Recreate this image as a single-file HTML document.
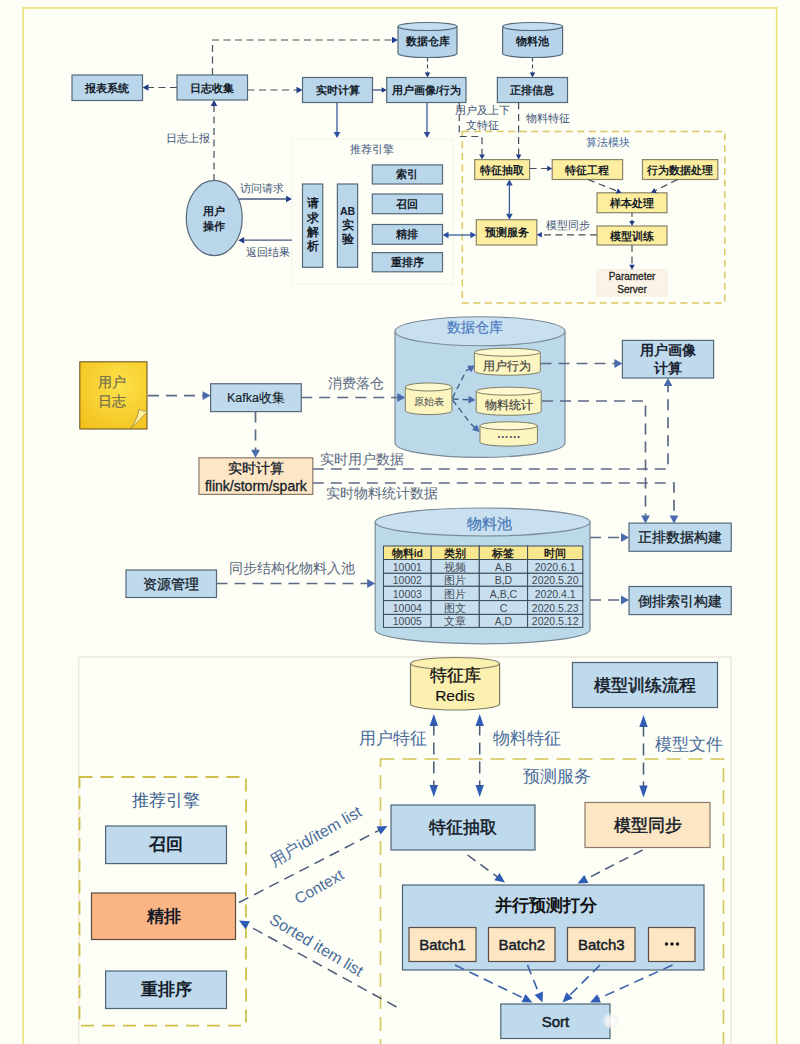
<!DOCTYPE html>
<html><head><meta charset="utf-8"><style>
html,body{margin:0;padding:0;background:#fdfef5;width:800px;height:1044px;overflow:hidden}
svg{display:block;font-family:"Liberation Sans", sans-serif}
</style></head><body>
<svg width="800" height="1044" viewBox="0 0 800 1044">
<rect width="800" height="1044" fill="#fdfef5"/>
<rect x="23.2" y="7.9" width="753.5" height="1060" fill="none" stroke="#ebe47e" stroke-width="1.7"/>
<polygon points="398,40 392.0,43.3 392.0,36.7" fill="#1e3a8a"/>
<polyline points="212.5,75 212.5,40 393.2,40.0" fill="none" stroke="#474e5c" stroke-width="1.2" stroke-dasharray="7,4.5"/>
<polygon points="142.5,87.5 148.5,84.2 148.5,90.8" fill="#1e3a8a"/>
<polyline points="177,87.5 147.3,87.5" fill="none" stroke="#474e5c" stroke-width="1.2" stroke-dasharray="7,4.5"/>
<polygon points="302.5,90 296.5,93.3 296.5,86.7" fill="#1e3a8a"/>
<polyline points="247.5,90 297.7,90.0" fill="none" stroke="#474e5c" stroke-width="1.2" stroke-dasharray="7,4.5"/>
<polygon points="386.7,90 381.7,92.75 381.7,87.25" fill="#1e3a8a"/>
<polyline points="372.5,90 382.7,90.0" fill="none" stroke="#3a5090" stroke-width="1.3" />
<polygon points="427.5,77.5 424.75,72.5 430.25,72.5" fill="#1e3a8a"/>
<polyline points="427.5,57.5 427.5,73.5" fill="none" stroke="#474e5c" stroke-width="1.2" stroke-dasharray="4,3"/>
<polygon points="532.5,77.5 529.75,72.5 535.25,72.5" fill="#1e3a8a"/>
<polyline points="532.5,57.5 532.5,73.5" fill="none" stroke="#474e5c" stroke-width="1.2" stroke-dasharray="4,3"/>
<polygon points="337,138 333.7,132.0 340.3,132.0" fill="#2a4a9a"/>
<polyline points="337,102.5 337.0,133.2" fill="none" stroke="#3a5aa0" stroke-width="1.3" />
<polygon points="427,138 423.7,132.0 430.3,132.0" fill="#2a4a9a"/>
<polyline points="427,102.5 427.0,133.2" fill="none" stroke="#3a5aa0" stroke-width="1.3" />
<polygon points="214,100 217.3,106.0 210.7,106.0" fill="#1e3a8a"/>
<polyline points="214,181 214.0,104.8" fill="none" stroke="#474e5c" stroke-width="1.2" stroke-dasharray="7,4.5"/>
<text x="188" y="138.4" font-size="11" font-weight="normal" fill="#3e5478"  text-anchor="middle" dominant-baseline="central" >日志上报</text>
<rect x="72" y="75" width="70.5" height="25.5" fill="#bad6ea" stroke="#55697a" stroke-width="1.2" />
<text x="107.25" y="87.75" font-size="11.3" font-weight="bold" fill="#141c2a"  text-anchor="middle" dominant-baseline="central" >报表系统</text>
<rect x="177" y="75" width="70.5" height="25" fill="#bad6ea" stroke="#55697a" stroke-width="1.2" />
<text x="212.25" y="87.5" font-size="11.3" font-weight="bold" fill="#141c2a"  text-anchor="middle" dominant-baseline="central" >日志收集</text>
<rect x="302.5" y="77.5" width="70.0" height="25.0" fill="#bad6ea" stroke="#55697a" stroke-width="1.2" />
<text x="337.5" y="90.0" font-size="11.3" font-weight="bold" fill="#141c2a"  text-anchor="middle" dominant-baseline="central" >实时计算</text>
<rect x="386.7" y="77.5" width="79.30000000000001" height="25.0" fill="#bad6ea" stroke="#55697a" stroke-width="1.2" />
<text x="426.35" y="90.0" font-size="11.3" font-weight="bold" fill="#141c2a"  text-anchor="middle" dominant-baseline="central" >用户画像/行为</text>
<rect x="497.4" y="77.5" width="70.10000000000002" height="25.0" fill="#bad6ea" stroke="#55697a" stroke-width="1.2" />
<text x="532.45" y="90.0" font-size="11.3" font-weight="bold" fill="#141c2a"  text-anchor="middle" dominant-baseline="central" >正排信息</text>
<path d="M398,26.5 L398,53.5 A29.5,4 0 0 0 457,53.5 L457,26.5" fill="#b6d3ea" stroke="#55697a" stroke-width="1.2"/>
<ellipse cx="427.5" cy="26.5" rx="29.5" ry="4" fill="#c6dff0" stroke="#55697a" stroke-width="1.2"/>
<text x="427.5" y="41" font-size="11" font-weight="bold" fill="#141c2a"  text-anchor="middle" dominant-baseline="central" >数据仓库</text>
<path d="M502.6,26.5 L502.6,53.5 A30.0,4 0 0 0 562.6,53.5 L562.6,26.5" fill="#b6d3ea" stroke="#55697a" stroke-width="1.2"/>
<ellipse cx="532.6" cy="26.5" rx="30.0" ry="4" fill="#c6dff0" stroke="#55697a" stroke-width="1.2"/>
<text x="532.6" y="41" font-size="11" font-weight="bold" fill="#141c2a"  text-anchor="middle" dominant-baseline="central" >物料池</text>
<rect x="292" y="139" width="161" height="145" fill="none" stroke="#f3f1ea" stroke-width="1" />
<text x="372" y="149" font-size="11" font-weight="normal" fill="#3e5478"  text-anchor="middle" dominant-baseline="central" >推荐引擎</text>
<ellipse cx="214.25" cy="218" rx="28" ry="37.6" fill="#bad6ea" stroke="#5a6a7a" stroke-width="1.2"/>
<text x="214.25" y="211" font-size="11" font-weight="bold" fill="#141c2a"  text-anchor="middle" dominant-baseline="central" >用户</text>
<text x="214.25" y="226" font-size="11" font-weight="bold" fill="#141c2a"  text-anchor="middle" dominant-baseline="central" >操作</text>
<polygon points="292,199 286.0,202.3 286.0,195.7" fill="#1e3a8a"/>
<polyline points="238,199 287.2,199.0" fill="none" stroke="#4a5a80" stroke-width="1.3" />
<polygon points="238.2,240.2 244.2,236.89999999999998 244.2,243.5" fill="#1e3a8a"/>
<polyline points="292,240.2 243.0,240.2" fill="none" stroke="#4a5a80" stroke-width="1.3" />
<text x="262.4" y="188.2" font-size="11" font-weight="normal" fill="#3e5478"  text-anchor="middle" dominant-baseline="central" >访问请求</text>
<text x="267.6" y="251.6" font-size="11" font-weight="normal" fill="#3e5478"  text-anchor="middle" dominant-baseline="central" >返回结果</text>
<rect x="302.5" y="184" width="20.25" height="83.30000000000001" fill="#bad6ea" stroke="#55697a" stroke-width="1.2" />
<text x="312.6" y="203" font-size="11.5" font-weight="bold" fill="#141c2a"  text-anchor="middle" dominant-baseline="central" >请</text>
<text x="312.6" y="217.8" font-size="11.5" font-weight="bold" fill="#141c2a"  text-anchor="middle" dominant-baseline="central" >求</text>
<text x="312.6" y="231.6" font-size="11.5" font-weight="bold" fill="#141c2a"  text-anchor="middle" dominant-baseline="central" >解</text>
<text x="312.6" y="245.9" font-size="11.5" font-weight="bold" fill="#141c2a"  text-anchor="middle" dominant-baseline="central" >析</text>
<rect x="337.4" y="184" width="20.200000000000045" height="83.30000000000001" fill="#bad6ea" stroke="#55697a" stroke-width="1.2" />
<text x="347.5" y="211" font-size="10.5" font-weight="bold" fill="#141c2a"  text-anchor="middle" dominant-baseline="central" >AB</text>
<text x="347.5" y="224.8" font-size="11.5" font-weight="bold" fill="#141c2a"  text-anchor="middle" dominant-baseline="central" >实</text>
<text x="347.5" y="239" font-size="11.5" font-weight="bold" fill="#141c2a"  text-anchor="middle" dominant-baseline="central" >验</text>
<rect x="372.3" y="164.9" width="70.19999999999999" height="19.099999999999994" fill="#bad6ea" stroke="#55697a" stroke-width="1.2" />
<text x="407.4" y="174.45" font-size="11.3" font-weight="bold" fill="#141c2a"  text-anchor="middle" dominant-baseline="central" >索引</text>
<rect x="372.3" y="194" width="70.19999999999999" height="19.69999999999999" fill="#bad6ea" stroke="#55697a" stroke-width="1.2" />
<text x="407.4" y="203.85" font-size="11.3" font-weight="bold" fill="#141c2a"  text-anchor="middle" dominant-baseline="central" >召回</text>
<rect x="372.3" y="224.5" width="70.19999999999999" height="19.80000000000001" fill="#bad6ea" stroke="#55697a" stroke-width="1.2" />
<text x="407.4" y="234.4" font-size="11.3" font-weight="bold" fill="#141c2a"  text-anchor="middle" dominant-baseline="central" >精排</text>
<rect x="372.3" y="252.6" width="70.19999999999999" height="19.200000000000017" fill="#bad6ea" stroke="#55697a" stroke-width="1.2" />
<text x="407.4" y="262.2" font-size="11.3" font-weight="bold" fill="#141c2a"  text-anchor="middle" dominant-baseline="central" >重排序</text>
<rect x="462.3" y="131.5" width="262.49999999999994" height="171.5" fill="none" stroke="#dcc860" stroke-width="1.5" stroke-dasharray="7,4.5"/>
<text x="607.5" y="142" font-size="11" font-weight="normal" fill="#44689a"  text-anchor="middle" dominant-baseline="central" >算法模块</text>
<polygon points="482,159.6 479.25,154.6 484.75,154.6" fill="#1e3a8a"/>
<polyline points="459.25,102.5 459.25,136.5 482,136.5 482.0,155.6" fill="none" stroke="#474e5c" stroke-width="1.2" stroke-dasharray="7,4.5"/>
<text x="482.7" y="110.4" font-size="11" font-weight="normal" fill="#3e5478"  text-anchor="middle" dominant-baseline="central" >用户及上下</text>
<text x="482.5" y="124.75" font-size="11" font-weight="normal" fill="#3e5478"  text-anchor="middle" dominant-baseline="central" >文特征</text>
<polygon points="518.6,159.6 515.85,154.6 521.35,154.6" fill="#1e3a8a"/>
<polyline points="518.6,102.5 518.6,155.6" fill="none" stroke="#474e5c" stroke-width="1.2" stroke-dasharray="7,4.5"/>
<text x="547.6" y="118.1" font-size="11" font-weight="normal" fill="#3e5478"  text-anchor="middle" dominant-baseline="central" >物料特征</text>
<rect x="474.7" y="159.6" width="54.900000000000034" height="19.900000000000006" fill="#fcee9e" stroke="#8a8468" stroke-width="1.2" />
<text x="502.15" y="169.55" font-size="11" font-weight="bold" fill="#141c2a"  text-anchor="middle" dominant-baseline="central" >特征抽取</text>
<rect x="552.2" y="159.6" width="70.39999999999998" height="19.900000000000006" fill="#fcee9e" stroke="#8a8468" stroke-width="1.2" />
<text x="587.4000000000001" y="169.55" font-size="11" font-weight="bold" fill="#141c2a"  text-anchor="middle" dominant-baseline="central" >特征工程</text>
<rect x="642.5" y="159.6" width="75.29999999999995" height="19.900000000000006" fill="#fcee9e" stroke="#8a8468" stroke-width="1.2" />
<text x="680.15" y="169.55" font-size="11" font-weight="bold" fill="#141c2a"  text-anchor="middle" dominant-baseline="central" >行为数据处理</text>
<rect x="597" y="192.8" width="70" height="19.899999999999977" fill="#fcee9e" stroke="#8a8468" stroke-width="1.2" />
<text x="632.0" y="202.75" font-size="11" font-weight="bold" fill="#141c2a"  text-anchor="middle" dominant-baseline="central" >样本处理</text>
<rect x="597" y="226" width="70" height="19" fill="#fcee9e" stroke="#8a8468" stroke-width="1.2" />
<text x="632.0" y="235.5" font-size="11" font-weight="bold" fill="#141c2a"  text-anchor="middle" dominant-baseline="central" >模型训练</text>
<rect x="476.3" y="219.7" width="60.49999999999994" height="25.30000000000001" fill="#fcee9e" stroke="#8a8468" stroke-width="1.2" />
<text x="506.54999999999995" y="232.35" font-size="11" font-weight="bold" fill="#141c2a"  text-anchor="middle" dominant-baseline="central" >预测服务</text>
<rect x="597" y="269.8" width="70" height="26.19999999999999" fill="#faf4e8" stroke="#efe6d4" stroke-width="0.8" />
<text x="632" y="276.5" font-size="10" font-weight="normal" fill="#222" stroke="#222" stroke-width="0.3" stroke-linejoin="round" text-anchor="middle" dominant-baseline="central" >Parameter</text>
<text x="632" y="289.5" font-size="10" font-weight="normal" fill="#222" stroke="#222" stroke-width="0.3" stroke-linejoin="round" text-anchor="middle" dominant-baseline="central" >Server</text>
<polygon points="552.2,168.5 547.2,171.25 547.2,165.75" fill="#1e3a8a"/>
<polyline points="529.6,168.5 548.2,168.5" fill="none" stroke="#474e5c" stroke-width="1.2" stroke-dasharray="7,4.5"/>
<polygon points="621.5,192.8 615.8381047822094,193.51094482399063 617.8675921529376,188.39907813832147" fill="#1e3a8a"/>
<polyline points="588,179.5 617.7822787740588,191.32400918492485" fill="none" stroke="#474e5c" stroke-width="1.2" stroke-dasharray="7,4.5"/>
<polygon points="651,192.8 654.2352123191399,188.0993722493602 656.7023041215384,193.01500629173333" fill="#1e3a8a"/>
<polyline points="677.5,179.5 654.5750065762713,191.0057514164374" fill="none" stroke="#474e5c" stroke-width="1.2" stroke-dasharray="7,4.5"/>
<polygon points="632,226 629.25,221.0 634.75,221.0" fill="#1e3a8a"/>
<polyline points="632,212.7 632.0,222.0" fill="none" stroke="#474e5c" stroke-width="1.2" stroke-dasharray="4,3"/>
<polygon points="632,269.8 629.25,264.8 634.75,264.8" fill="#1e3a8a"/>
<polyline points="632,245 632.0,265.8" fill="none" stroke="#474e5c" stroke-width="1.2" stroke-dasharray="7,4.5"/>
<polygon points="536.8,234.8 541.8,232.05 541.8,237.55" fill="#1e3a8a"/>
<polyline points="597,234.8 540.8,234.8" fill="none" stroke="#474e5c" stroke-width="1.2" stroke-dasharray="7,4.5"/>
<text x="568" y="225" font-size="11" font-weight="normal" fill="#3e5478"  text-anchor="middle" dominant-baseline="central" >模型同步</text>
<polygon points="509.4,219.7 506.09999999999997,213.7 512.6999999999999,213.7" fill="#2a4a9a"/>
<polygon points="509.4,179.5 512.6999999999999,185.5 506.09999999999997,185.5" fill="#2a4a9a"/>
<polyline points="509.4,184.3 509.4,214.89999999999998" fill="none" stroke="#3a5aa0" stroke-width="1.3" />
<polygon points="476.3,235 470.3,238.3 470.3,231.7" fill="#2a4a9a"/>
<polygon points="442.5,235 448.5,231.7 448.5,238.3" fill="#2a4a9a"/>
<polyline points="447.3,235.0 471.5,235.0" fill="none" stroke="#3a5aa0" stroke-width="1.3" />
<defs><radialGradient id="ng" cx="0.6" cy="0.35" r="0.8"><stop offset="0" stop-color="#fde24a"/><stop offset="1" stop-color="#f3c11e"/></radialGradient></defs>
<rect x="79.8" y="361.8" width="67.2" height="67.2" fill="url(#ng)" stroke="#6e5a20" stroke-width="1.1"/>
<path d="M130.5,428.8 Q138,418 139,409 Q144,412 147,411 L147,412 Q140,420 130.5,428.8 Z" fill="#fdf0a0" stroke="#8a7a3a" stroke-width="0.7"/>
<text x="112" y="382" font-size="14" font-weight="normal" fill="#76704e" stroke="#76704e" stroke-width="0.25" stroke-linejoin="round" text-anchor="middle" dominant-baseline="central" >用户</text>
<text x="112" y="401" font-size="14" font-weight="normal" fill="#76704e" stroke="#76704e" stroke-width="0.25" stroke-linejoin="round" text-anchor="middle" dominant-baseline="central" >日志</text>
<rect x="210.6" y="383.75" width="90.65" height="27.850000000000023" fill="#bedaec" stroke="#56687a" stroke-width="1.2" />
<text x="255.925" y="397.675" font-size="12.5" font-weight="normal" fill="#141c2a" stroke="#141c2a" stroke-width="0.15" stroke-linejoin="round" text-anchor="middle" dominant-baseline="central" >Kafka收集</text>
<rect x="199" y="457.8" width="113.80000000000001" height="36.599999999999966" fill="#fde6c6" stroke="#8a7a6a" stroke-width="1.2" />
<text x="255.9" y="467.6" font-size="14" font-weight="normal" fill="#141c2a" stroke="#141c2a" stroke-width="0.3" stroke-linejoin="round" text-anchor="middle" dominant-baseline="central" >实时计算</text>
<text x="255.9" y="485.6" font-size="14" font-weight="normal" fill="#141c2a" stroke="#141c2a" stroke-width="0.3" stroke-linejoin="round" text-anchor="middle" dominant-baseline="central" >flink/storm/spark</text>
<path d="M395,331.25 L395,442.9 A85.0,14.5 0 0 0 565,442.9 L565,331.25" fill="#bcd9ea" stroke="#7a8a96" stroke-width="1.2"/>
<ellipse cx="480.0" cy="331.25" rx="85.0" ry="14.5" fill="#c8e0ef" stroke="#7a8a96" stroke-width="1.2"/>
<text x="475" y="327" font-size="14" font-weight="normal" fill="#4a78c0" stroke="#4a78c0" stroke-width="0.15" stroke-linejoin="round" text-anchor="middle" dominant-baseline="central" >数据仓库</text>
<path d="M405.3,387 L405.3,410.6 A23.299999999999983,4 0 0 0 451.9,410.6 L451.9,387" fill="#fcf5c0" stroke="#7e7e66" stroke-width="1"/>
<ellipse cx="428.6" cy="387" rx="23.299999999999983" ry="4" fill="#fdf8d0" stroke="#7e7e66" stroke-width="1"/>
<text x="428.6" y="401" font-size="10" font-weight="normal" fill="#555" stroke="#555" stroke-width="0.1" stroke-linejoin="round" text-anchor="middle" dominant-baseline="central" >原始表</text>
<path d="M474.4,352.25 L474.4,371.25 A32.94999999999999,4 0 0 0 540.3,371.25 L540.3,352.25" fill="#fcf5c0" stroke="#7e7e66" stroke-width="1"/>
<ellipse cx="507.34999999999997" cy="352.25" rx="32.94999999999999" ry="4" fill="#fdf8d0" stroke="#7e7e66" stroke-width="1"/>
<text x="507.3" y="366" font-size="12" font-weight="normal" fill="#444" stroke="#444" stroke-width="0.2" stroke-linejoin="round" text-anchor="middle" dominant-baseline="central" >用户行为</text>
<path d="M476.2,391.2 L476.2,411.3 A32.50000000000003,4 0 0 0 541.2,411.3 L541.2,391.2" fill="#fcf5c0" stroke="#7e7e66" stroke-width="1"/>
<ellipse cx="508.70000000000005" cy="391.2" rx="32.50000000000003" ry="4" fill="#fdf8d0" stroke="#7e7e66" stroke-width="1"/>
<text x="508.7" y="404.5" font-size="12" font-weight="normal" fill="#444" stroke="#444" stroke-width="0.2" stroke-linejoin="round" text-anchor="middle" dominant-baseline="central" >物料统计</text>
<path d="M480,425.8 L480,442.1 A28.69999999999999,4 0 0 0 537.4,442.1 L537.4,425.8" fill="#fcf5c0" stroke="#7e7e66" stroke-width="1"/>
<ellipse cx="508.7" cy="425.8" rx="28.69999999999999" ry="4" fill="#fdf8d0" stroke="#7e7e66" stroke-width="1"/>
<text x="508.7" y="433.5" font-size="12" font-weight="bold" fill="#555"  text-anchor="middle" dominant-baseline="central" >……</text>
<polygon points="210.6,395.6 202.6,400.0 202.6,391.20000000000005" fill="#4a6ab0"/>
<polyline points="148,395.6 204.2,395.6" fill="none" stroke="#5d6a86" stroke-width="1.7" stroke-dasharray="11,7"/>
<polygon points="405.3,397.5 397.3,401.9 397.3,393.1" fill="#4a6ab0"/>
<polyline points="301.25,397.5 398.90000000000003,397.5" fill="none" stroke="#5d6a86" stroke-width="1.7" stroke-dasharray="11,7"/>
<text x="356" y="383" font-size="13.5" font-weight="normal" fill="#5a6882"  text-anchor="middle" dominant-baseline="central" >消费落仓</text>
<polygon points="255.5,457.8 251.1,449.8 259.9,449.8" fill="#4a6ab0"/>
<polyline points="255.5,411.6 255.5,451.40000000000003" fill="none" stroke="#5d6a86" stroke-width="1.7" stroke-dasharray="11,7"/>
<polygon points="475,365.5 471.0346097008341,372.4352851257379 467.01944462803846,365.8650150066178" fill="#4a6ab0"/>
<polyline points="452.5,398 466,371 470.221621731549,368.42012005294225" fill="none" stroke="#40648a" stroke-width="1.4" stroke-dasharray="6,4"/>
<polygon points="475.5,400 468.3393735780508,403.54230563973283 468.6738402049784,395.84957322039884" fill="#4a6ab0"/>
<polyline points="452.5,399 469.90528551321165,399.7567515440527" fill="none" stroke="#40648a" stroke-width="1.4" stroke-dasharray="6,4"/>
<polygon points="479.6,432 471.85244265432084,430.05119134458687 477.096943011396,424.4133534607312" fill="#4a6ab0"/>
<polyline points="452.5,400 471,424 475.49975426628674,428.18581792212717" fill="none" stroke="#40648a" stroke-width="1.4" stroke-dasharray="6,4"/>
<rect x="622.4" y="340.4" width="91.20000000000005" height="37.60000000000002" fill="#bedaec" stroke="#56687a" stroke-width="1.2" />
<text x="668.0" y="350.2" font-size="14" font-weight="bold" fill="#1a2230"  text-anchor="middle" dominant-baseline="central" >用户画像</text>
<text x="668.0" y="368.2" font-size="14" font-weight="bold" fill="#1a2230"  text-anchor="middle" dominant-baseline="central" >计算</text>
<polygon points="622.4,363.5 614.4,367.9 614.4,359.1" fill="#4a6ab0"/>
<polyline points="540.5,363.5 616.0,363.5" fill="none" stroke="#5d6a86" stroke-width="1.7" stroke-dasharray="11,7"/>
<polygon points="645.5,523.5 641.1,515.5 649.9,515.5" fill="#4a6ab0"/>
<polyline points="542,401 645.5,401 645.5,517.1" fill="none" stroke="#5d6a86" stroke-width="1.7" stroke-dasharray="11,7"/>
<polygon points="668,378 672.4,386.0 663.6,386.0" fill="#4a6ab0"/>
<polyline points="312.8,469 668,469 668.0,384.4" fill="none" stroke="#5d6a86" stroke-width="1.7" stroke-dasharray="11,7"/>
<polygon points="674,523.5 669.6,515.5 678.4,515.5" fill="#4a6ab0"/>
<polyline points="312.8,483 674,483 674.0,517.1" fill="none" stroke="#5d6a86" stroke-width="1.7" stroke-dasharray="11,7"/>
<text x="362" y="459" font-size="13.5" font-weight="normal" fill="#5a6882"  text-anchor="middle" dominant-baseline="central" >实时用户数据</text>
<text x="382" y="493" font-size="13.5" font-weight="normal" fill="#5a6882"  text-anchor="middle" dominant-baseline="central" >实时物料统计数据</text>
<rect x="629" y="523.1" width="102.25" height="28.149999999999977" fill="#bedaec" stroke="#56687a" stroke-width="1.2" />
<text x="680.125" y="537.175" font-size="14" font-weight="normal" fill="#141c2a" stroke="#141c2a" stroke-width="0.3" stroke-linejoin="round" text-anchor="middle" dominant-baseline="central" >正排数据构建</text>
<rect x="629" y="586.5" width="102.25" height="28.100000000000023" fill="#bedaec" stroke="#56687a" stroke-width="1.2" />
<text x="680.125" y="600.55" font-size="14" font-weight="normal" fill="#141c2a" stroke="#141c2a" stroke-width="0.3" stroke-linejoin="round" text-anchor="middle" dominant-baseline="central" >倒排索引构建</text>
<path d="M375.2,522 L375.2,629.8 A107.4,14 0 0 0 590,629.8 L590,522" fill="#bcd9ea" stroke="#7a8a96" stroke-width="1.2"/>
<ellipse cx="482.6" cy="522" rx="107.4" ry="14" fill="#c8e0ef" stroke="#7a8a96" stroke-width="1.2"/>
<text x="489" y="523" font-size="15" font-weight="normal" fill="#4a78b8" stroke="#4a78b8" stroke-width="0.25" stroke-linejoin="round" text-anchor="middle" dominant-baseline="central" >物料池</text>
<polygon points="629,537.5 621.0,541.9 621.0,533.1" fill="#4a6ab0"/>
<polyline points="590,537.5 622.6,537.5" fill="none" stroke="#5d6a86" stroke-width="1.7" stroke-dasharray="11,7"/>
<polygon points="629,600 621.0,604.4 621.0,595.6" fill="#4a6ab0"/>
<polyline points="590,600 622.6,600.0" fill="none" stroke="#5d6a86" stroke-width="1.7" stroke-dasharray="11,7"/>
<rect x="126" y="570" width="90.5" height="27.5" fill="#bedaec" stroke="#56687a" stroke-width="1.2" />
<text x="171.25" y="583.75" font-size="14" font-weight="normal" fill="#141c2a" stroke="#141c2a" stroke-width="0.3" stroke-linejoin="round" text-anchor="middle" dominant-baseline="central" >资源管理</text>
<polygon points="375.2,583.5 367.2,587.9 367.2,579.1" fill="#4a6ab0"/>
<polyline points="216.5,583.5 368.8,583.5" fill="none" stroke="#5d6a86" stroke-width="1.7" stroke-dasharray="11,7"/>
<text x="292" y="568.5" font-size="13.5" font-weight="normal" fill="#5a6882"  text-anchor="middle" dominant-baseline="central" >同步结构化物料入池</text>
<rect x="383.5" y="546" width="47.69999999999999" height="13.5" fill="#f7e78e" stroke="#3a4a58" stroke-width="1" />
<text x="407.35" y="553.25" font-size="10.5" font-weight="bold" fill="#222"  text-anchor="middle" dominant-baseline="central" >物料id</text>
<rect x="431.2" y="546" width="48.10000000000002" height="13.5" fill="#f7e78e" stroke="#3a4a58" stroke-width="1" />
<text x="455.25" y="553.25" font-size="10.5" font-weight="bold" fill="#222"  text-anchor="middle" dominant-baseline="central" >类别</text>
<rect x="479.3" y="546" width="48.30000000000001" height="13.5" fill="#f7e78e" stroke="#3a4a58" stroke-width="1" />
<text x="503.45000000000005" y="553.25" font-size="10.5" font-weight="bold" fill="#222"  text-anchor="middle" dominant-baseline="central" >标签</text>
<rect x="527.6" y="546" width="55.19999999999993" height="13.5" fill="#f7e78e" stroke="#3a4a58" stroke-width="1" />
<text x="555.2" y="553.25" font-size="10.5" font-weight="bold" fill="#222"  text-anchor="middle" dominant-baseline="central" >时间</text>
<rect x="383.5" y="559.5" width="47.69999999999999" height="13.799999999999955" fill="#c8dfef" stroke="#3a4a58" stroke-width="1" />
<text x="407.35" y="566.9" font-size="10.5" font-weight="normal" fill="#444a55"  text-anchor="middle" dominant-baseline="central" >10001</text>
<rect x="431.2" y="559.5" width="48.10000000000002" height="13.799999999999955" fill="#c8dfef" stroke="#3a4a58" stroke-width="1" />
<text x="455.25" y="566.9" font-size="10.5" font-weight="normal" fill="#444a55"  text-anchor="middle" dominant-baseline="central" >视频</text>
<rect x="479.3" y="559.5" width="48.30000000000001" height="13.799999999999955" fill="#c8dfef" stroke="#3a4a58" stroke-width="1" />
<text x="503.45000000000005" y="566.9" font-size="10.5" font-weight="normal" fill="#444a55"  text-anchor="middle" dominant-baseline="central" >A,B</text>
<rect x="527.6" y="559.5" width="55.19999999999993" height="13.799999999999955" fill="#c8dfef" stroke="#3a4a58" stroke-width="1" />
<text x="555.2" y="566.9" font-size="10.5" font-weight="normal" fill="#444a55"  text-anchor="middle" dominant-baseline="central" >2020.6.1</text>
<rect x="383.5" y="573.3" width="47.69999999999999" height="13.0" fill="#c8dfef" stroke="#3a4a58" stroke-width="1" />
<text x="407.35" y="580.3" font-size="10.5" font-weight="normal" fill="#444a55"  text-anchor="middle" dominant-baseline="central" >10002</text>
<rect x="431.2" y="573.3" width="48.10000000000002" height="13.0" fill="#c8dfef" stroke="#3a4a58" stroke-width="1" />
<text x="455.25" y="580.3" font-size="10.5" font-weight="normal" fill="#444a55"  text-anchor="middle" dominant-baseline="central" >图片</text>
<rect x="479.3" y="573.3" width="48.30000000000001" height="13.0" fill="#c8dfef" stroke="#3a4a58" stroke-width="1" />
<text x="503.45000000000005" y="580.3" font-size="10.5" font-weight="normal" fill="#444a55"  text-anchor="middle" dominant-baseline="central" >B,D</text>
<rect x="527.6" y="573.3" width="55.19999999999993" height="13.0" fill="#c8dfef" stroke="#3a4a58" stroke-width="1" />
<text x="555.2" y="580.3" font-size="10.5" font-weight="normal" fill="#444a55"  text-anchor="middle" dominant-baseline="central" >2020.5.20</text>
<rect x="383.5" y="586.3" width="47.69999999999999" height="14.300000000000068" fill="#c8dfef" stroke="#3a4a58" stroke-width="1" />
<text x="407.35" y="593.95" font-size="10.5" font-weight="normal" fill="#444a55"  text-anchor="middle" dominant-baseline="central" >10003</text>
<rect x="431.2" y="586.3" width="48.10000000000002" height="14.300000000000068" fill="#c8dfef" stroke="#3a4a58" stroke-width="1" />
<text x="455.25" y="593.95" font-size="10.5" font-weight="normal" fill="#444a55"  text-anchor="middle" dominant-baseline="central" >图片</text>
<rect x="479.3" y="586.3" width="48.30000000000001" height="14.300000000000068" fill="#c8dfef" stroke="#3a4a58" stroke-width="1" />
<text x="503.45000000000005" y="593.95" font-size="10.5" font-weight="normal" fill="#444a55"  text-anchor="middle" dominant-baseline="central" >A,B,C</text>
<rect x="527.6" y="586.3" width="55.19999999999993" height="14.300000000000068" fill="#c8dfef" stroke="#3a4a58" stroke-width="1" />
<text x="555.2" y="593.95" font-size="10.5" font-weight="normal" fill="#444a55"  text-anchor="middle" dominant-baseline="central" >2020.4.1</text>
<rect x="383.5" y="600.6" width="47.69999999999999" height="13.799999999999955" fill="#c8dfef" stroke="#3a4a58" stroke-width="1" />
<text x="407.35" y="608.0" font-size="10.5" font-weight="normal" fill="#444a55"  text-anchor="middle" dominant-baseline="central" >10004</text>
<rect x="431.2" y="600.6" width="48.10000000000002" height="13.799999999999955" fill="#c8dfef" stroke="#3a4a58" stroke-width="1" />
<text x="455.25" y="608.0" font-size="10.5" font-weight="normal" fill="#444a55"  text-anchor="middle" dominant-baseline="central" >图文</text>
<rect x="479.3" y="600.6" width="48.30000000000001" height="13.799999999999955" fill="#c8dfef" stroke="#3a4a58" stroke-width="1" />
<text x="503.45000000000005" y="608.0" font-size="10.5" font-weight="normal" fill="#444a55"  text-anchor="middle" dominant-baseline="central" >C</text>
<rect x="527.6" y="600.6" width="55.19999999999993" height="13.799999999999955" fill="#c8dfef" stroke="#3a4a58" stroke-width="1" />
<text x="555.2" y="608.0" font-size="10.5" font-weight="normal" fill="#444a55"  text-anchor="middle" dominant-baseline="central" >2020.5.23</text>
<rect x="383.5" y="614.4" width="47.69999999999999" height="13.0" fill="#c8dfef" stroke="#3a4a58" stroke-width="1" />
<text x="407.35" y="621.4" font-size="10.5" font-weight="normal" fill="#444a55"  text-anchor="middle" dominant-baseline="central" >10005</text>
<rect x="431.2" y="614.4" width="48.10000000000002" height="13.0" fill="#c8dfef" stroke="#3a4a58" stroke-width="1" />
<text x="455.25" y="621.4" font-size="10.5" font-weight="normal" fill="#444a55"  text-anchor="middle" dominant-baseline="central" >文章</text>
<rect x="479.3" y="614.4" width="48.30000000000001" height="13.0" fill="#c8dfef" stroke="#3a4a58" stroke-width="1" />
<text x="503.45000000000005" y="621.4" font-size="10.5" font-weight="normal" fill="#444a55"  text-anchor="middle" dominant-baseline="central" >A,D</text>
<rect x="527.6" y="614.4" width="55.19999999999993" height="13.0" fill="#c8dfef" stroke="#3a4a58" stroke-width="1" />
<text x="555.2" y="621.4" font-size="10.5" font-weight="normal" fill="#444a55"  text-anchor="middle" dominant-baseline="central" >2020.5.12</text>
<rect x="78.75" y="657" width="652.25" height="423" fill="none" stroke="#ebe2d6" stroke-width="1.2" />
<path d="M410.5,663.5 L410.5,704 A44.55000000000001,6 0 0 0 499.6,704 L499.6,663.5" fill="#fcf0b0" stroke="#7a7a60" stroke-width="1.2"/>
<ellipse cx="455.05" cy="663.5" rx="44.55000000000001" ry="6" fill="#fcf0b0" stroke="#7a7a60" stroke-width="1.2"/>
<text x="455" y="675" font-size="17" font-weight="normal" fill="#111" stroke="#111" stroke-width="0.3" stroke-linejoin="round" text-anchor="middle" dominant-baseline="central" >特征库</text>
<text x="455" y="695.5" font-size="15.5" font-weight="normal" fill="#111" stroke="#111" stroke-width="0.15" stroke-linejoin="round" text-anchor="middle" dominant-baseline="central" >Redis</text>
<rect x="572.5" y="662.5" width="145.0" height="45.0" fill="#bfdaec" stroke="#4e6476" stroke-width="1.2" />
<text x="645.0" y="685.0" font-size="17" font-weight="normal" fill="#141c2a" stroke="#141c2a" stroke-width="0.5" stroke-linejoin="round" text-anchor="middle" dominant-baseline="central" >模型训练流程</text>
<polygon points="433.8,797 429.6,785.0 438.0,785.0" fill="#2f5cb8"/>
<polygon points="433.8,714 438.0,726.0 429.6,726.0" fill="#2f5cb8"/>
<polyline points="433.8,723.6 433.8,787.4" fill="none" stroke="#4a5a78" stroke-width="1.5" stroke-dasharray="12,7"/>
<polygon points="479.7,797 475.5,785.0 483.9,785.0" fill="#2f5cb8"/>
<polygon points="479.7,714 483.9,726.0 475.5,726.0" fill="#2f5cb8"/>
<polyline points="479.7,723.6 479.7,787.4" fill="none" stroke="#4a5a78" stroke-width="1.5" stroke-dasharray="12,7"/>
<polygon points="643.5,797.5 639.3,785.5 647.7,785.5" fill="#2f5cb8"/>
<polygon points="643.5,715 647.7,727.0 639.3,727.0" fill="#2f5cb8"/>
<polyline points="643.5,724.6 643.5,787.9" fill="none" stroke="#4a5a78" stroke-width="1.5" stroke-dasharray="12,7"/>
<text x="393" y="738.5" font-size="17" font-weight="normal" fill="#4a6c9c"  text-anchor="middle" dominant-baseline="central" >用户特征</text>
<text x="527" y="738.5" font-size="17" font-weight="normal" fill="#4a6c9c"  text-anchor="middle" dominant-baseline="central" >物料特征</text>
<text x="689" y="744" font-size="17" font-weight="normal" fill="#4a6c9c"  text-anchor="middle" dominant-baseline="central" >模型文件</text>
<rect x="380.5" y="759" width="343.0" height="321" fill="none" stroke="#d4c55a" stroke-width="1.6" stroke-dasharray="14,8"/>
<text x="557" y="776" font-size="16.5" font-weight="normal" fill="#4a6c9c"  text-anchor="middle" dominant-baseline="central" >预测服务</text>
<rect x="79.5" y="777" width="166.5" height="248.5999999999999" fill="none" stroke="#cfbf4a" stroke-width="1.8" stroke-dasharray="13,8"/>
<text x="166" y="800.5" font-size="17" font-weight="normal" fill="#3a6090"  text-anchor="middle" dominant-baseline="central" >推荐引擎</text>
<rect x="105.6" y="826" width="120.9" height="37.60000000000002" fill="#bfdaec" stroke="#4e6476" stroke-width="1.2" />
<text x="166.05" y="844.8" font-size="17" font-weight="bold" fill="#141c2a"  text-anchor="middle" dominant-baseline="central" >召回</text>
<rect x="91.5" y="893" width="144.0" height="46.5" fill="#fbb584" stroke="#5a4a40" stroke-width="1.2" />
<text x="163.5" y="916.25" font-size="17" font-weight="bold" fill="#141c2a"  text-anchor="middle" dominant-baseline="central" >精排</text>
<rect x="105.6" y="971" width="120.9" height="37.5" fill="#bfdaec" stroke="#4e6476" stroke-width="1.2" />
<text x="166.05" y="989.75" font-size="17" font-weight="bold" fill="#141c2a"  text-anchor="middle" dominant-baseline="central" >重排序</text>
<rect x="391" y="805" width="144" height="45" fill="#bfdaec" stroke="#4e6476" stroke-width="1.2" />
<text x="463.0" y="827.5" font-size="17" font-weight="normal" fill="#141c2a" stroke="#141c2a" stroke-width="0.5" stroke-linejoin="round" text-anchor="middle" dominant-baseline="central" >特征抽取</text>
<rect x="585" y="802.5" width="125" height="45.0" fill="#fde6c4" stroke="#8a7a6a" stroke-width="1.2" />
<text x="647.5" y="825.0" font-size="17" font-weight="normal" fill="#141c2a" stroke="#141c2a" stroke-width="0.5" stroke-linejoin="round" text-anchor="middle" dominant-baseline="central" >模型同步</text>
<rect x="402.5" y="885" width="301.5" height="85" fill="#bfdaec" stroke="#4e6476" stroke-width="1.2" />
<text x="545.5" y="905" font-size="16.5" font-weight="bold" fill="#111"  text-anchor="middle" dominant-baseline="central" >并行预测打分</text>
<rect x="409" y="927.5" width="67" height="34.0" fill="#fde6c4" stroke="#5a4e46" stroke-width="1.2" />
<text x="442.5" y="944.5" font-size="15" font-weight="normal" fill="#141c2a" stroke="#141c2a" stroke-width="0.45" stroke-linejoin="round" text-anchor="middle" dominant-baseline="central" >Batch1</text>
<rect x="488.5" y="927.5" width="66.5" height="34.0" fill="#fde6c4" stroke="#5a4e46" stroke-width="1.2" />
<text x="521.75" y="944.5" font-size="15" font-weight="normal" fill="#141c2a" stroke="#141c2a" stroke-width="0.45" stroke-linejoin="round" text-anchor="middle" dominant-baseline="central" >Batch2</text>
<rect x="567.5" y="927.5" width="67.5" height="34.0" fill="#fde6c4" stroke="#5a4e46" stroke-width="1.2" />
<text x="601.25" y="944.5" font-size="15" font-weight="normal" fill="#141c2a" stroke="#141c2a" stroke-width="0.45" stroke-linejoin="round" text-anchor="middle" dominant-baseline="central" >Batch3</text>
<rect x="648.5" y="927.5" width="46.5" height="34.0" fill="#fde6c4" stroke="#5a4e46" stroke-width="1.2" />
<text x="671.75" y="944.5" font-size="15" font-weight="normal" fill="#141c2a" stroke="#141c2a" stroke-width="0.45" stroke-linejoin="round" text-anchor="middle" dominant-baseline="central" ></text>
<circle cx="666.5" cy="944" r="1.7" fill="#111"/>
<circle cx="672" cy="944" r="1.7" fill="#111"/>
<circle cx="677.5" cy="944" r="1.7" fill="#111"/>
<rect x="500.8" y="1004" width="109.19999999999999" height="34.5" fill="#bfdaec" stroke="#4e6476" stroke-width="1.2" />
<text x="555.4" y="1021.25" font-size="15" font-weight="normal" fill="#141c2a" stroke="#141c2a" stroke-width="0.5" stroke-linejoin="round" text-anchor="middle" dominant-baseline="central" >Sort</text>
<defs><radialGradient id="wb"><stop offset="0" stop-color="#fff" stop-opacity="1"/><stop offset="0.6" stop-color="#f4f4f0" stop-opacity="0.8"/><stop offset="1" stop-color="#fff" stop-opacity="0"/></radialGradient></defs><ellipse cx="612" cy="1021" rx="10" ry="9" fill="url(#wb)"/>
<polygon points="505,882.5 494.2748135551191,880.2151858450754 499.59708652776675,872.9575408823741" fill="#2f5cb8"/>
<polyline points="467.5,855 498.54876003315434,877.7690906909799" fill="none" stroke="#4a5a78" stroke-width="1.5" stroke-dasharray="10,6"/>
<polygon points="577.5,883.5 584.3273604023162,874.9187908814151 588.4504433493336,882.9188025696576" fill="#2f5cb8"/>
<polyline points="642.5,850 584.6111215006599,879.8350373804291" fill="none" stroke="#4a5a78" stroke-width="1.5" stroke-dasharray="10,6"/>
<polygon points="532.5,1002.5 521.5383833093756,1002.195107350327 525.4584316623141,994.0936740875874" fill="#2f5cb8"/>
<polyline points="455,965 525.2987259886759,999.0155125751658" fill="none" stroke="#3a62aa" stroke-width="1.6" stroke-dasharray="10,6"/>
<polygon points="542.5,1002.5 534.6079481274753,994.8864911347408 542.9642383454427,991.543975047554" fill="#2f5cb8"/>
<polyline points="527.5,965 539.5288745891671,995.0721864729179" fill="none" stroke="#3a62aa" stroke-width="1.6" stroke-dasharray="10,6"/>
<polygon points="562.5,1002.5 566.389087296526,992.246951672795 572.7530483272049,998.6109127034739" fill="#2f5cb8"/>
<polyline points="600,965 568.1568542494924,996.8431457505076" fill="none" stroke="#3a62aa" stroke-width="1.6" stroke-dasharray="10,6"/>
<polygon points="590,1002.5 597.2415515252708,994.2653214084064 600.9657780239813,1002.4586197055698" fill="#2f5cb8"/>
<polyline points="672.5,965 597.2829318197008,999.1895764455905" fill="none" stroke="#3a62aa" stroke-width="1.6" stroke-dasharray="10,6"/>
<polygon points="387.5,826 380.67105908926834,834.5799514006628 376.5494497821996,826.5791803928234" fill="#2f5cb8"/>
<polyline points="239,902.5 380.38820354858717,829.6636527173945" fill="none" stroke="#4a5a78" stroke-width="1.5" stroke-dasharray="10.5,6.5"/>
<polygon points="239,920.5 249.93132551267743,921.369553066746 245.59886431292213,929.2581384882658" fill="#2f5cb8"/>
<polyline points="396.5,1007 246.01207593023983,924.3510766220047" fill="none" stroke="#4a5a78" stroke-width="1.5" stroke-dasharray="10.5,6.5"/>
<text x="315.5" y="836" font-size="16" fill="#4a6c9c" text-anchor="middle" dominant-baseline="central" transform="rotate(-30 315.5 836)">用户id/item list</text>
<text x="319" y="886.5" font-size="15.5" fill="#4a6c9c" text-anchor="middle" dominant-baseline="central" transform="rotate(-30 319 886.5)">Context</text>
<text x="316.5" y="945" font-size="16" fill="#4a6c9c" text-anchor="middle" dominant-baseline="central" transform="rotate(31 316.5 945)">Sorted item list</text>
</svg></body></html>
